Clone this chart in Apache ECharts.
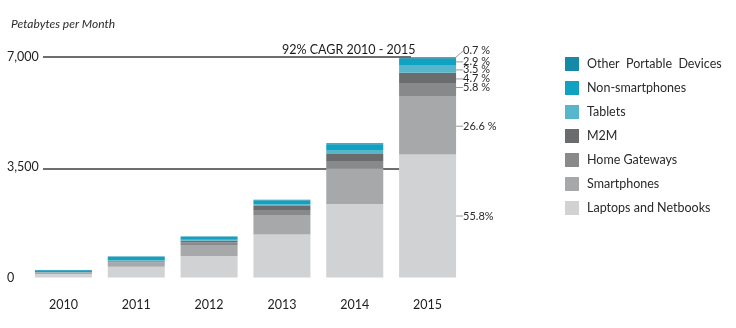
<!DOCTYPE html>
<html>
<head>
<meta charset="utf-8">
<script src="https://cdn.jsdelivr.net/npm/echarts@6/dist/echarts.min.js"></script>
<style>
html,body{margin:0;padding:0;background:#fff;}
#chart{width:736px;height:328px;}
</style>
</head>
<body>
<div id="chart"></div>
<script>
// Data (petabytes per month)
const years = ['2010', '2011', '2012', '2013', '2014', '2015'];
const laptops    = [111, 342, 681, 1362, 2328, 3895];
const smartphones= [40, 140, 348, 618, 1131, 1857];
const homeGateways=[10, 30, 80, 158, 231, 405];
const m2m        = [8, 20, 55, 127, 222, 328];
const tablets    = [3, 12, 30, 55, 127, 244];
const nonSmart   = [55, 105, 85, 120, 180, 202];
const otherPortable=[10, 15, 20, 25, 32, 49];
const share2015  = ['55.8%', '26.6 %', '5.8 %', '4.7 %', '3.5 %', '2.9 %', '0.7 %'];
const yTicks = [0, 3500, 7000];
const cagrText = '92% CAGR 2010 - 2015';
const unitText = 'Petabytes per Month';

const seriesDefs = [
  {name: 'Laptops and Netbooks', data: laptops, color: '#d0d2d4', dy: 0},
  {name: 'Smartphones', data: smartphones, color: '#a6a8aa', dy: 1},
  {name: 'Home Gateways', data: homeGateways, color: '#88898b', dy: -2},
  {name: 'M2M', data: m2m, color: '#6b6c6e', dy: 1},
  {name: 'Tablets', data: tablets, color: '#58b6cc', dy: 1},
  {name: 'Non-smartphones', data: nonSmart, color: '#11a2c1', dy: 0},
  {name: 'Other  Portable  Devices', data: otherPortable, color: '#1689a7', dy: -7}
];

const FONT = 'Lato, "Open Sans", sans-serif';

const chart = echarts.init(document.getElementById('chart'), null, {renderer: 'canvas'});

const series = seriesDefs.map((s, i) => ({
  name: s.name,
  type: 'bar',
  stack: 'total',
  xAxisIndex: 0,
  yAxisIndex: 0,
  barWidth: 57,
  itemStyle: {color: s.color},
  data: s.data.map((v, j) => {
    if (j !== years.length - 1) return v;
    return {
      value: v,
      label: {
        show: true,
        position: 'right',
        distance: 7,
        formatter: share2015[i],
        color: '#2a2a2a',
        fontSize: 11,
        fontFamily: FONT
      },
      labelLine: {show: true, lineStyle: {color: '#9a9a9a', width: 1}}
    };
  }),
  labelLayout: {dy: s.dy},
  labelLine: {show: true, lineStyle: {color: '#9a9a9a', width: 1}},
  emphasis: {disabled: true}
}));

chart.setOption({
  animation: false,
  backgroundColor: '#fff',
  textStyle: {fontFamily: FONT},
  title: [
    {text: unitText, left: 6, top: 13,
     textStyle: {fontSize: 12, fontStyle: 'italic', fontWeight: 'normal', color: '#2a2a2a', fontFamily: FONT}},
    {text: cagrText, left: 277, top: 38,
     textStyle: {fontSize: 12.5, fontWeight: 'normal', color: '#1a1a1a', fontFamily: FONT}}
  ],
  legend: {
    orient: 'vertical',
    left: 560,
    top: 52,
    itemWidth: 14,
    itemHeight: 14,
    itemGap: 10,
    icon: 'rect',
    selectedMode: false,
    data: seriesDefs.slice().reverse().map(s => s.name),
    textStyle: {fontSize: 12.5, color: '#2a2a2a', fontFamily: FONT, padding: [0, 0, 0, 3]}
  },
  grid: [
    {left: 27, right: 272, top: 56.5, bottom: 50.5, containLabel: false},
    {left: 43, right: 325, top: 56.5, height: 112.5, containLabel: false}
  ],
  xAxis: [
    {type: 'category', gridIndex: 0, data: years,
     axisLine: {show: false}, axisTick: {show: false},
     axisLabel: {margin: 21, fontSize: 12.5, color: '#222', fontFamily: FONT}},
    {type: 'value', gridIndex: 1, min: 0, max: 1, show: false}
  ],
  yAxis: [
    {type: 'value', gridIndex: 0, min: 0, max: 7000, interval: 3500,
     splitLine: {show: false}, axisLine: {show: false}, axisTick: {show: false},
     axisLabel: {align: 'left', margin: 20, fontSize: 12.5, color: '#222', fontFamily: FONT,
       formatter: v => yTicks.includes(v) ? v.toLocaleString('en-US') : ''}},
    {type: 'value', gridIndex: 1, min: 3500, max: 7000, interval: 3500,
     axisLine: {show: false}, axisTick: {show: false}, axisLabel: {show: false},
     splitLine: {show: true, lineStyle: {color: '#6e6e6e', width: 2}}}
  ],
  series: series
});
</script>
</body>
</html>
